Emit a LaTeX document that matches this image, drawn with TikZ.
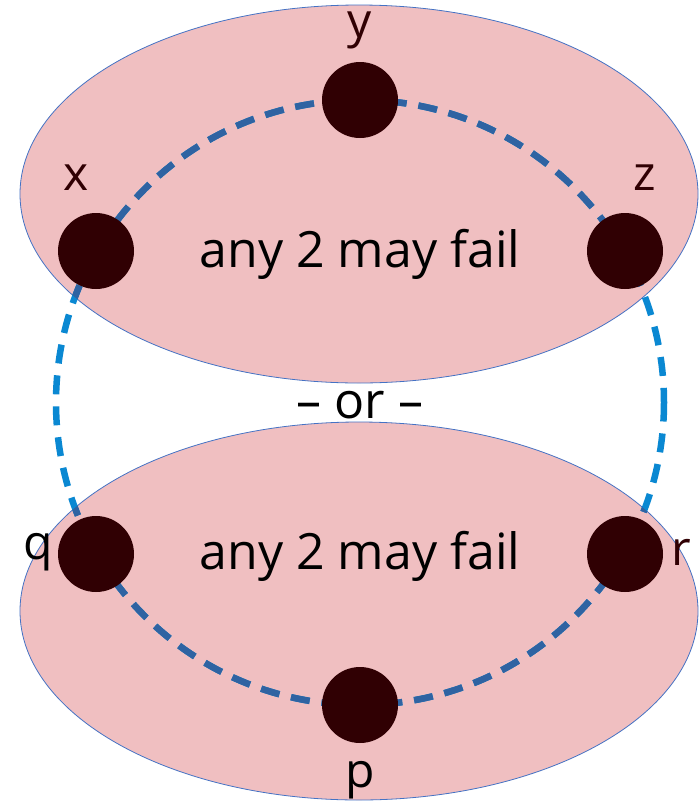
\documentclass[tikz,border=0pt]{standalone}
\usepackage{fontspec}
\setmainfont{Open Sans}
\definecolor{pinkfill}{HTML}{F0BFC1}
\definecolor{edgeblue}{HTML}{4472C4}
\definecolor{brightblue}{HTML}{0A88D2}
\definecolor{darkblue}{HTML}{2F63A2}
\definecolor{nodefill}{HTML}{300003}
\tikzset{
  region/.style={fill=pinkfill, draw=edgeblue, line width=0.8pt},
  server/.style={circle, fill=nodefill, minimum size=76pt, inner sep=0pt},
  lab/.style={font=\fontsize{48}{48}\selectfont, text=nodefill},
  caption/.style={font=\fontsize{50}{50}\selectfont, text=black},
  ring/.style={line width=6.5pt, dash pattern=on 19pt off 12pt},
}
\begin{document}
\begin{tikzpicture}[x=1pt,y=-1pt]
\useasboundingbox (0,0) rectangle (699,812);
% regions
\path[region] (359,194) ellipse [x radius=339, y radius=189];
\path[region] (359,611) ellipse [x radius=339, y radius=189];
% ring connectors
\coordinate (c) at (360,402.5);
\draw[ring, brightblue] (c) circle [x radius=304, y radius=302.5];
\begin{scope}
  \clip (359,194) ellipse [x radius=339, y radius=189]
        (359,611) ellipse [x radius=339, y radius=189];
  \draw[ring, darkblue] (c) circle [x radius=304, y radius=302.5];
\end{scope}
% servers
\node[server] (x) at (96,251) {};
\node[server] (y) at (360,100) {};
\node[server] (z) at (625,251) {};
\node[server] (q) at (96,554) {};
\node[server] (r) at (625,554) {};
\node[server] (p) at (360,705) {};
% labels
\node[lab] (lx) at (76,178) {x};
\node[lab] (ly) at (360,30) {y};
\node[lab] (lz) at (645,178) {z};
\node[lab, text=black] (lq) at (38,552) {q};
\node[lab] (lr) at (681,552) {r};
\node[lab, text=black] (lp) at (360,780) {p};
% captions
\node[caption] (t1) at (360,254) {any 2 may fail};
\node[caption] (t2) at (360,556) {any 2 may fail};
\node[caption] (or) at (360,405) {– or –};
\end{tikzpicture}
\end{document}
